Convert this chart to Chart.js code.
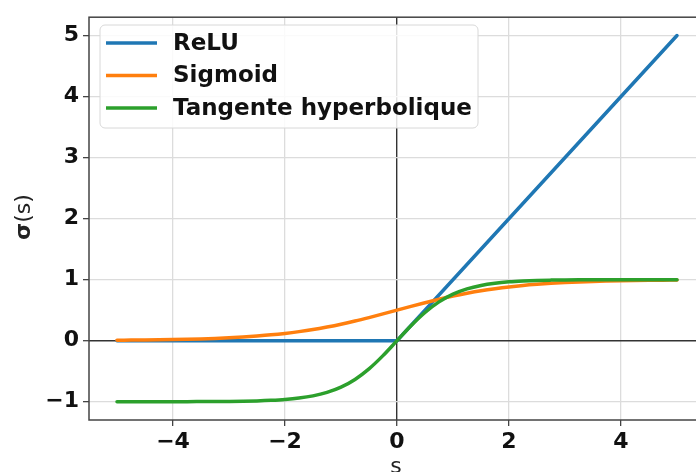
<!DOCTYPE html>
<html lang="fr">
<head>
  <meta charset="UTF-8">
  <title>Fonctions d'activation</title>
  <style>
    html, body { margin: 0; padding: 0; background: #fff; overflow: hidden; }
    #wrap { position: absolute; left: 0; top: 0; width: 720px; height: 490px; }
  </style>
</head>
<body>
  <div id="wrap"><canvas id="actChart" width="720" height="490"></canvas></div>

  <script src="https://cdn.jsdelivr.net/npm/chart.js"></script>
  <script>
    // valeurs
    const reluX = [-5, 0, 5];
    const reluY = [0, 0, 5];

    const curveX = [-5, -4.75, -4.5, -4.25, -4, -3.75, -3.5, -3.25, -3, -2.75, -2.5, -2.25, -2, -1.75, -1.5, -1.25, -1, -0.75, -0.5, -0.25,
      0, 0.25, 0.5, 0.75, 1, 1.25, 1.5, 1.75, 2, 2.25, 2.5, 2.75, 3, 3.25, 3.5, 3.75, 4, 4.25, 4.5, 4.75, 5];
    const sigmoidY = [0.007, 0.009, 0.011, 0.014, 0.018, 0.023, 0.029, 0.037, 0.047, 0.060, 0.076, 0.095, 0.119, 0.148, 0.182, 0.223, 0.269, 0.321, 0.378, 0.438,
      0.500, 0.562, 0.622, 0.679, 0.731, 0.777, 0.818, 0.852, 0.881, 0.905, 0.924, 0.940, 0.953, 0.963, 0.971, 0.977, 0.982, 0.986, 0.989, 0.991, 0.993];
    const tanhY = [-1.000, -1.000, -1.000, -1.000, -0.999, -0.999, -0.998, -0.997, -0.995, -0.992, -0.987, -0.978, -0.964, -0.941, -0.905, -0.848, -0.762, -0.635, -0.462, -0.245,
      0, 0.245, 0.462, 0.635, 0.762, 0.848, 0.905, 0.941, 0.964, 0.978, 0.987, 0.992, 0.995, 0.997, 0.998, 0.999, 0.999, 1.000, 1.000, 1.000, 1.000];

    const seriesNames = ['ReLU', 'Sigmoid', 'Tangente hyperbolique'];
    const xTicks = [-4, -2, 0, 2, 4];
    const yTicks = [-1, 0, 1, 2, 3, 4, 5];

    const colors = ['#1f77b4', '#ff7f0e', '#2ca02c'];
    const tickFont = { family: 'DejaVu Sans', size: 22, weight: 'bold' };

    function pts(xs, ys) {
      return xs.map((x, i) => ({ x: x, y: ys[i] }));
    }
    function fmt(v) {
      return v < 0 ? '\u2212' + Math.abs(v) : String(v);
    }

    // cadre, légende et titres des axes
    const decor = {
      id: 'decor',
      afterDatasetsDraw(chart) {
        const ctx = chart.ctx;
        const a = chart.chartArea;
        ctx.save();
        ctx.strokeStyle = '#444';
        ctx.lineWidth = 1.5;
        ctx.strokeRect(a.left, a.top, a.right - a.left, a.bottom - a.top);

        // légende
        const bx = 100, by = 25, bw = 378, bh = 103;
        ctx.beginPath();
        ctx.roundRect(bx, by, bw, bh, 5);
        ctx.fillStyle = 'rgba(255,255,255,0.85)';
        ctx.fill();
        ctx.strokeStyle = '#d8d8d8';
        ctx.lineWidth = 1;
        ctx.stroke();
        ctx.font = 'bold 23px "DejaVu Sans"';
        ctx.textBaseline = 'middle';
        chart.data.datasets.forEach((ds, i) => {
          const y = 43 + i * 32.5;
          ctx.strokeStyle = ds.borderColor;
          ctx.lineWidth = 3.5;
          ctx.beginPath();
          ctx.moveTo(106, y);
          ctx.lineTo(157, y);
          ctx.stroke();
          ctx.fillStyle = '#111';
          ctx.fillText(ds.label, 173, y + 1);
        });
        ctx.restore();
      },
      afterDraw(chart) {
        const ctx = chart.ctx;
        ctx.save();
        ctx.fillStyle = '#222';
        ctx.textBaseline = 'middle';
        // titre axe y
        ctx.translate(24, 217);
        ctx.rotate(-Math.PI / 2);
        ctx.font = 'bold 22px "DejaVu Sans"';
        const w1 = ctx.measureText('\u03c3').width;
        ctx.font = '22px "DejaVu Sans"';
        const w2 = ctx.measureText('(s)').width;
        let x0 = -(w1 + w2) / 2;
        ctx.textAlign = 'left';
        ctx.font = 'bold 22px "DejaVu Sans"';
        ctx.fillText('\u03c3', x0, 0);
        ctx.font = '22px "DejaVu Sans"';
        ctx.fillText('(s)', x0 + w1, 0);
        ctx.restore();
        // titre axe x
        ctx.save();
        ctx.fillStyle = '#222';
        ctx.font = '22px "DejaVu Sans"';
        ctx.textAlign = 'center';
        ctx.textBaseline = 'middle';
        ctx.fillText('s', 396, 467);
        ctx.restore();
      }
    };

    const gridColor = c => (c.tick && c.tick.value === 0) ? '#333' : '#dcdcdc';
    const gridWidth = c => (c.tick && c.tick.value === 0) ? 1.4 : 1.3;

    new Chart(document.getElementById('actChart').getContext('2d'), {
      type: 'line',
      data: {
        datasets: [
          { label: seriesNames[0], data: pts(reluX, reluY), borderColor: colors[0], order: 2, tension: 0 },
          { label: seriesNames[1], data: pts(curveX, sigmoidY), borderColor: colors[1], order: 1, cubicInterpolationMode: 'monotone' },
          { label: seriesNames[2], data: pts(curveX, tanhY), borderColor: colors[2], order: 0, cubicInterpolationMode: 'monotone' }
        ]
      },
      options: {
        responsive: false,
        animation: false,
        devicePixelRatio: 1,
        layout: { padding: { left: 0, top: 14, right: 15, bottom: 0 } },
        elements: {
          point: { radius: 0 },
          line: { borderWidth: 3.5, fill: false, borderCapStyle: 'round' }
        },
        plugins: {
          legend: { display: false },
          tooltip: { enabled: false }
        },
        scales: {
          x: {
            type: 'linear',
            min: -5.5,
            max: 5.5,
            afterBuildTicks: s => { s.ticks = xTicks.map(v => ({ value: v })); },
            afterFit: s => { s.height = 70; },
            grid: { color: gridColor, lineWidth: gridWidth, tickLength: 6, tickColor: '#444', tickWidth: 1.3 },
            border: { display: false },
            ticks: { font: tickFont, color: '#111', padding: 3, callback: fmt, maxRotation: 0 }
          },
          y: {
            type: 'linear',
            min: -1.3,
            max: 5.3,
            afterBuildTicks: s => { s.ticks = yTicks.map(v => ({ value: v })); },
            afterFit: s => { s.width = 89; },
            grid: { color: gridColor, lineWidth: gridWidth, tickLength: 6, tickColor: '#444', tickWidth: 1.3 },
            border: { display: false },
            ticks: { font: tickFont, color: '#111', padding: 4, callback: fmt }
          }
        }
      },
      plugins: [decor]
    });
  </script>
</body>
</html>
